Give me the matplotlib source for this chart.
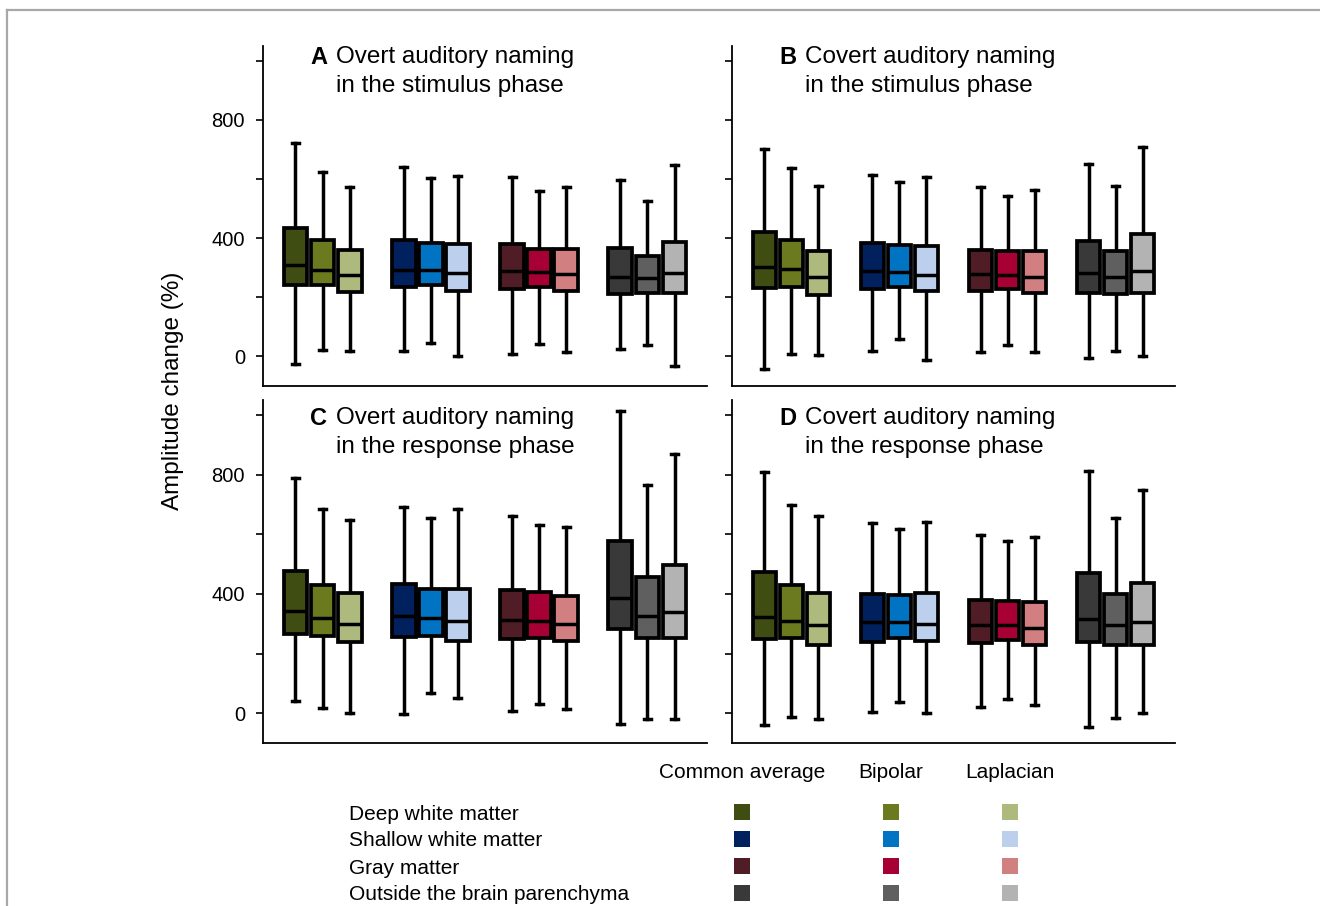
import matplotlib
matplotlib.use('Agg')
import matplotlib.pyplot as plt

plt.rcParams['font.family'] = ['Liberation Sans', 'DejaVu Sans']

# 4 tissue groups x 3 references (common average, bipolar, laplacian)
tissues = ['Deep white matter', 'Shallow white matter', 'Gray matter', 'Outside the brain parenchyma']
references = ['Common average', 'Bipolar', 'Laplacian']
colors = ['#3f4d13', '#6b7a1f', '#adb97d',
          '#00205e', '#0074c2', '#bcd0ee',
          '#501d27', '#a60034', '#d17f81',
          '#393939', '#5f5f5f', '#b3b3b3']

# panel A: overt, stimulus phase
a_lo  = [-26, 22, 17, 19, 45, 0, 9, 42, 15, 26, 38, -34]
a_q1  = [240, 240, 217, 234, 240, 223, 229, 236, 223, 211, 214, 214]
a_med = [310, 293, 274, 293, 293, 281, 290, 287, 278, 270, 265, 281]
a_q3  = [434, 394, 360, 394, 385, 379, 379, 364, 363, 366, 340, 388]
a_hi  = [721, 625, 574, 640, 602, 611, 606, 560, 572, 597, 527, 647]

# panel B: covert, stimulus phase
b_lo  = [-43, 8, 6, 20, 59, -11, 14, 39, 14, -6, 17, 0]
b_q1  = [231, 234, 208, 227, 236, 220, 222, 227, 216, 214, 212, 214]
b_med = [301, 295, 268, 289, 284, 276, 278, 276, 270, 281, 268, 289]
b_q3  = [420, 394, 357, 383, 377, 374, 361, 355, 355, 391, 357, 414]
b_hi  = [700, 638, 577, 614, 591, 608, 574, 544, 563, 651, 577, 709]

# panel C: overt, response phase
c_lo  = [42, 18, 0, -2, 68, 50, 6, 31, 15, -36, -21, -19]
c_q1  = [266, 258, 240, 254, 258, 243, 249, 252, 241, 282, 251, 251]
c_med = [344, 318, 299, 325, 319, 310, 312, 310, 299, 386, 325, 340]
c_q3  = [478, 431, 403, 433, 418, 418, 413, 405, 394, 576, 458, 498]
c_hi  = [790, 684, 647, 692, 656, 684, 660, 632, 623, 1013, 764, 868]

# panel D: covert, response phase
d_lo  = [-39, -13, -21, 3, 37, 0, 20, 48, 26, -47, -17, 0]
d_q1  = [249, 251, 230, 240, 252, 241, 235, 247, 230, 238, 230, 230]
d_med = [321, 310, 296, 307, 307, 299, 294, 294, 285, 316, 296, 307]
d_q3  = [472, 431, 403, 400, 397, 402, 379, 377, 374, 469, 400, 436]
d_hi  = [809, 697, 662, 639, 617, 642, 598, 576, 589, 812, 653, 749]

panels = [
    ('A', 'Overt auditory naming', 'in the stimulus phase', a_lo, a_q1, a_med, a_q3, a_hi),
    ('B', 'Covert auditory naming', 'in the stimulus phase', b_lo, b_q1, b_med, b_q3, b_hi),
    ('C', 'Overt auditory naming', 'in the response phase', c_lo, c_q1, c_med, c_q3, c_hi),
    ('D', 'Covert auditory naming', 'in the response phase', d_lo, d_q1, d_med, d_q3, d_hi),
]

W, H = 1320, 906
fig = plt.figure(figsize=(13.2, 9.06), dpi=100)

# background layer in pixel coords (frame lines + legend squares)
bg = fig.add_axes([0, 0, 1, 1])
bg.set_xlim(0, W)
bg.set_ylim(H, 0)
bg.axis('off')
bg.plot([7, W], [10, 10], color='#a8a8a8', lw=1.6)
bg.plot([7, 7], [10, H], color='#a8a8a8', lw=1.6)

# panel rectangles in pixels: left, top, right, bottom
rects = [(263, 46, 707, 386), (732, 46, 1175, 386),
         (263, 400, 707, 743), (732, 400, 1175, 743)]
title_y = [(0.967, 0.882), (0.967, 0.882), (0.947, 0.863), (0.947, 0.863)]

positions = [g * 4 + k for g in range(4) for k in range(3)]

for i, (letter, line1, line2, lo, q1, med, q3, hi) in enumerate(panels):
    l, t, r, b = rects[i]
    ax = fig.add_axes([l / W, 1 - b / H, (r - l) / W, (b - t) / H])
    stats = []
    for j in range(12):
        stats.append({'whislo': lo[j], 'q1': q1[j], 'med': med[j],
                      'q3': q3[j], 'whishi': hi[j], 'fliers': []})
    bp = ax.bxp(stats, positions=positions, widths=0.88, capwidths=0.26,
                patch_artist=True, showfliers=False,
                boxprops=dict(linewidth=2.7, edgecolor='black'),
                whiskerprops=dict(linewidth=2.5, color='black'),
                capprops=dict(linewidth=2.5, color='black'),
                medianprops=dict(linewidth=2.5, color='black'))
    for patch, c in zip(bp['boxes'], colors):
        patch.set_facecolor(c)
    # whiskers behind boxes
    for w in bp['whiskers']:
        w.set_zorder(1)

    ax.set_xlim(-1.2, 15.2)
    ax.set_ylim(-100, 1050)
    ax.set_yticks([0, 200, 400, 600, 800, 1000])
    if i % 2 == 0:
        ax.set_yticklabels(['0', '', '400', '', '800', ''])
    else:
        ax.set_yticklabels([])
    ax.tick_params(axis='y', direction='out', length=5, width=1.2,
                   labelsize=14.5, colors='black', pad=8)
    ax.set_xticks([])
    ax.spines['top'].set_visible(False)
    ax.spines['right'].set_visible(False)
    ax.spines['left'].set_linewidth(1.3)
    ax.spines['bottom'].set_linewidth(1.3)
    ax.patch.set_alpha(0)

    ax.text(0.106, title_y[i][0], letter, transform=ax.transAxes,
            fontsize=17, fontweight='bold', va='center', ha='left')
    ax.text(0.165, title_y[i][0], line1, transform=ax.transAxes,
            fontsize=17.5, va='center', ha='left')
    ax.text(0.165, title_y[i][1], line2, transform=ax.transAxes,
            fontsize=17.5, va='center', ha='left')

fig.text(173 / W, 1 - 391 / H, 'Amplitude change (%)', rotation=90,
         fontsize=17.5, ha='center', va='center')

# legend
col_x = [742, 891, 1010]
row_y = [812, 839, 866, 893]
for k, ref in enumerate(references):
    bg.text(col_x[k], 772, ref, fontsize=15, ha='center', va='center')
for g, tissue in enumerate(tissues):
    bg.text(349, row_y[g] + 2, tissue, fontsize=15, ha='left', va='center')
    for k in range(3):
        bg.scatter(col_x[k], row_y[g], marker='s', s=140,
                   color=colors[g * 3 + k], linewidths=0)

fig.savefig('out.png', dpi=100)
